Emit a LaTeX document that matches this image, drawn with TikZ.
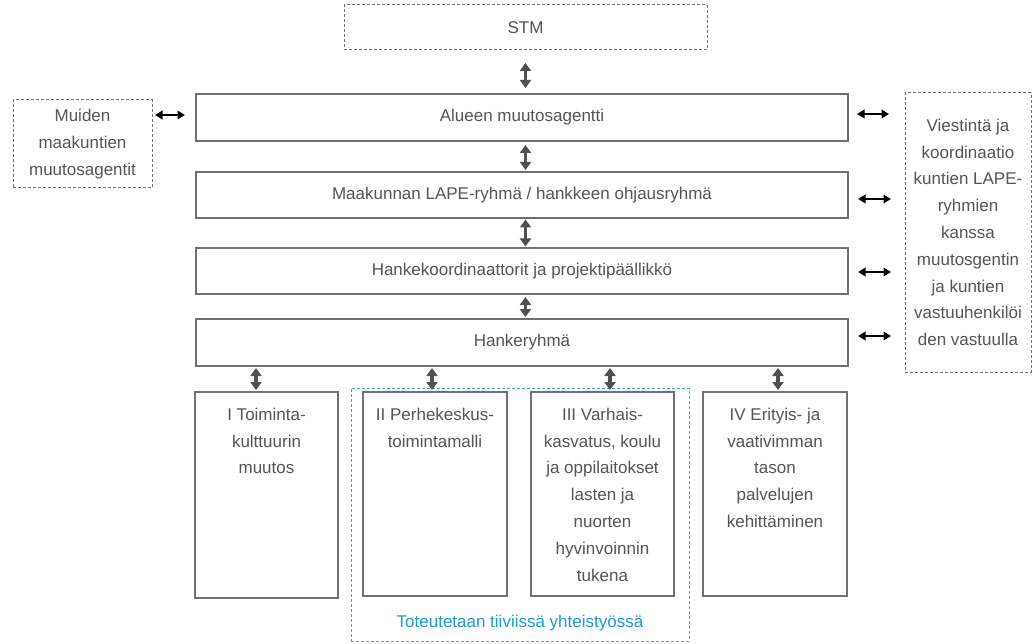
\documentclass[tikz,border=0pt]{standalone}
\usepackage{fontspec}
\setmainfont{Liberation Sans}
\usetikzlibrary{arrows.meta}
\definecolor{txt}{HTML}{555555}
\definecolor{edge}{HTML}{707070}
\definecolor{arr}{HTML}{505050}
\definecolor{blueedge}{HTML}{3AA7D6}
\definecolor{bluetxt}{HTML}{1E9BD0}
\begin{document}
\begin{tikzpicture}[x=1pt,y=-1pt,
  every node/.style={inner sep=0pt, outer sep=0pt, text=txt, font=\fontsize{17}{26.8}\selectfont},
  solidbox/.style={draw=edge, line width=1.1pt},
  dashbox/.style={draw=edge, line width=1pt, dash pattern=on 3pt off 2pt},
  bluebox/.style={draw=blueedge, line width=1pt, dash pattern=on 3pt off 2pt},
  varrow/.style={draw=arr, line width=3.4pt, {Triangle[width=11pt,length=8pt]}-{Triangle[width=11pt,length=8pt]}},
  harrow/.style={draw=black, line width=1.8pt, {Triangle[width=8.5pt,length=7.5pt]}-{Triangle[width=8.5pt,length=7.5pt]}},
]
\useasboundingbox (0,0) rectangle (1033,644);
\fill[white] (0,0) rectangle (1033,644);

% blue collaboration frame
\node[bluebox, minimum width=338pt, minimum height=253pt] (blue) at (520,514.5) {};
\node[text=bluetxt] (bluet) at (520,623) {Toteutetaan tiiviissä yhteistyössä};

% top dashed box
\node[dashbox, minimum width=363pt, minimum height=45pt] (stm) at (525.5,27.5) {STM};

% main horizontal boxes
\node[solidbox, minimum width=652pt, minimum height=47pt] (a1) at (522,117.5) {Alueen muutosagentti};
\node[solidbox, minimum width=652pt, minimum height=46pt] (a2) at (522,195) {Maakunnan LAPE-ryhmä / hankkeen ohjausryhmä};
\node[solidbox, minimum width=652pt, minimum height=46pt] (a3) at (522,271) {Hankekoordinaattorit ja projektipäällikkö};
\node[solidbox, minimum width=652pt, minimum height=47pt] (a4) at (522,342.5) {Hankeryhmä};

% side boxes
\node[dashbox, minimum width=139pt, minimum height=88pt, align=center] (lb) at (82.5,144) {Muiden\\maakuntien\\muutosagentit};
\node[dashbox, minimum width=126pt, minimum height=279pt, align=center] (rb) at (968,232.5) {Viestintä ja\\koordinaatio\\kuntien LAPE-\\ryhmien\\kanssa\\muutosgentin\\ja kuntien\\vastuuhenkilöi\\den vastuulla};

% bottom boxes
\node[solidbox, fill=white, minimum width=143pt, minimum height=206pt] (b1) at (266.5,495) {};
\node[solidbox, fill=white, minimum width=144pt, minimum height=204pt] (b2) at (435,494) {};
\node[solidbox, fill=white, minimum width=143pt, minimum height=204pt] (b3) at (602.5,494) {};
\node[solidbox, fill=white, minimum width=144pt, minimum height=204pt] (b4) at (775,494) {};
\node[anchor=north, align=center] (b1t) at ([yshift=-16pt]b1.north) {I Toiminta-\\kulttuurin\\muutos};
\node[anchor=north, align=center] (b2t) at ([yshift=-16pt]b2.north) {II Perhekeskus-\\toimintamalli};
\node[anchor=north, align=center] (b3t) at ([yshift=-16pt]b3.north) {III Varhais-\\kasvatus, koulu\\ja oppilaitokset\\lasten ja\\nuorten\\hyvinvoinnin\\tukena};
\node[anchor=north, align=center] (b4t) at ([yshift=-16pt]b4.north) {IV Erityis- ja\\vaativimman\\tason\\palvelujen\\kehittäminen};

% vertical arrows
\draw[varrow, shorten <=13pt, shorten >=6pt] (stm.south) -- (stm.south |- a1.north);
\draw[varrow, shorten <=4pt, shorten >=2pt] (stm.south |- a1.south) -- (stm.south |- a2.north);
\draw[varrow, shorten <=1.5pt, shorten >=1.5pt] (stm.south |- a2.south) -- (stm.south |- a3.north);
\draw[varrow, shorten <=3pt, shorten >=2pt] (stm.south |- a3.south) -- (stm.south |- a4.north);

\draw[varrow, shorten <=2pt, shorten >=2pt] ([xshift=-10.5pt]b1.north |- a4.south) -- ([xshift=-10.5pt]b1.north);
\draw[varrow, shorten <=2pt, shorten >=2pt] ([xshift=-3pt]b2.north |- a4.south) -- ([xshift=-3pt]b2.north);
\draw[varrow, shorten <=2pt, shorten >=2pt] ([xshift=7.5pt]b3.north |- a4.south) -- ([xshift=7.5pt]b3.north);
\draw[varrow, shorten <=2pt, shorten >=2pt] ([xshift=3pt]b4.north |- a4.south) -- ([xshift=3pt]b4.north);

% horizontal arrows
\draw[harrow, shorten <=3pt, shorten >=11pt] ([yshift=2.5pt]a1.west -| lb.east) -- ([yshift=2.5pt]a1.west);
\draw[harrow, shorten <=9pt, shorten >=16pt] ([yshift=3.5pt]a1.east) -- ([yshift=3.5pt]a1.east -| rb.west);
\draw[harrow, shorten <=10pt, shorten >=14pt] ([yshift=-4pt]a2.east) -- ([yshift=-4pt]a2.east -| rb.west);
\draw[harrow, shorten <=10pt, shorten >=14pt] ([yshift=-1pt]a3.east) -- ([yshift=-1pt]a3.east -| rb.west);
\draw[harrow, shorten <=10pt, shorten >=14pt] ([yshift=6.5pt]a4.east) -- ([yshift=6.5pt]a4.east -| rb.west);
\end{tikzpicture}
\end{document}
